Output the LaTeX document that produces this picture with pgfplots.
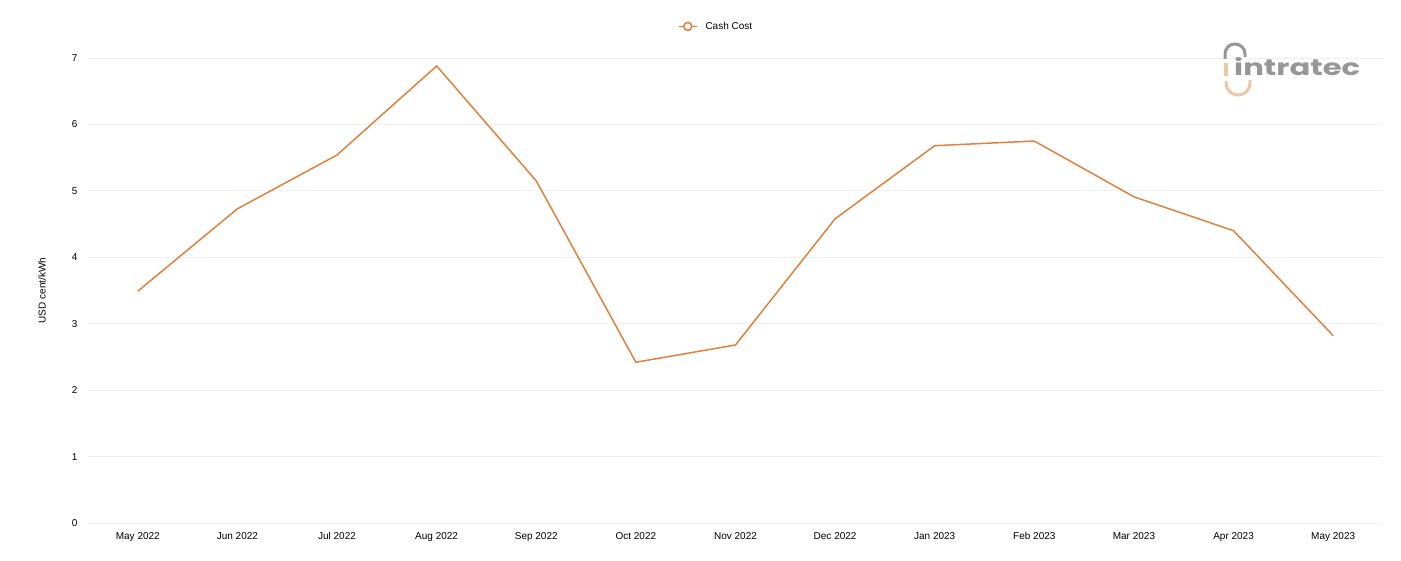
\documentclass[border=0pt]{standalone}
\usepackage{pgfplots}
\pgfplotsset{compat=1.18}
\usepackage{fontspec}
\setmainfont{Liberation Sans}
\newfontfamily\logofont{Poppins}
\usepackage{graphicx}
\definecolor{linec}{RGB}{224,128,60}
\definecolor{gridc}{RGB}{240,240,240}
\definecolor{logog}{RGB}{150,150,150}
\definecolor{logob}{RGB}{234,200,166}
\begin{document}
\begin{tikzpicture}
\path[use as bounding box] (-88pt,-38pt) rectangle (1313pt,523pt);
\begin{axis}[name=ax, scale only axis, width=1295pt, height=465pt,
  xmin=-0.5, xmax=12.5, ymin=0, ymax=7,
  xtick={0,...,12},
  xticklabels={May 2022,Jun 2022,Jul 2022,Aug 2022,Sep 2022,Oct 2022,Nov 2022,Dec 2022,Jan 2023,Feb 2023,Mar 2023,Apr 2023,May 2023},
  ytick={0,...,7},
  axis line style={draw=none}, major tick length=0pt,
  ymajorgrids, grid style={gridc, line width=0.8pt},
  tick label style={font=\fontsize{10}{12}\selectfont},
  /pgf/number format/assume math mode=true,
  xticklabel style={yshift=-6pt},
  yticklabel style={xshift=-7pt},
  ylabel={USD cent/kWh},
  ylabel style={at={(axis description cs:-0.0355,0.5)}, anchor=center, font=\fontsize{10}{12}\selectfont},
  legend style={at={(axis description cs:0.485,1.068)}, anchor=center, draw=none, fill=none, font=\fontsize{10}{12}\selectfont,
    /tikz/every even column/.append style={column sep=0pt}},
  legend cell align=left,
  clip=false,
]
\addplot[linec, line width=1.5pt, no marks,
  legend image code/.code={\draw[linec, line width=1.6pt] (0pt,0pt) -- (18pt,0pt); \draw[linec, line width=1.6pt, fill=white] (9pt,0pt) circle (4pt); \path (24pt,0pt);}]
  coordinates {(0,3.49) (1,4.73) (2,5.54) (3,6.88) (4,5.15) (5,2.42) (6,2.68) (7,4.58) (8,5.68) (9,5.75) (10,4.91) (11,4.40) (12,2.82)};
\addlegendentry{Cash Cost}
\end{axis}
% logo
\draw[logog, line width=3pt] (1137pt,464pt) -- (1137pt,469pt) arc (180:0:10pt) -- (1157pt,466pt);
\draw[logob, line width=3.5pt] (1138pt,460pt) -- (1138pt,447pt);
\draw[logob, line width=3pt] (1138pt,442pt) -- (1138pt,440pt) arc (180:360:12pt) -- (1162pt,443pt);
\node[anchor=base west, inner sep=0pt, text=logog] at (1146pt,447pt) {\resizebox{126pt}{18pt}{\logofont\bfseries intratec}};
\end{tikzpicture}
\end{document}
